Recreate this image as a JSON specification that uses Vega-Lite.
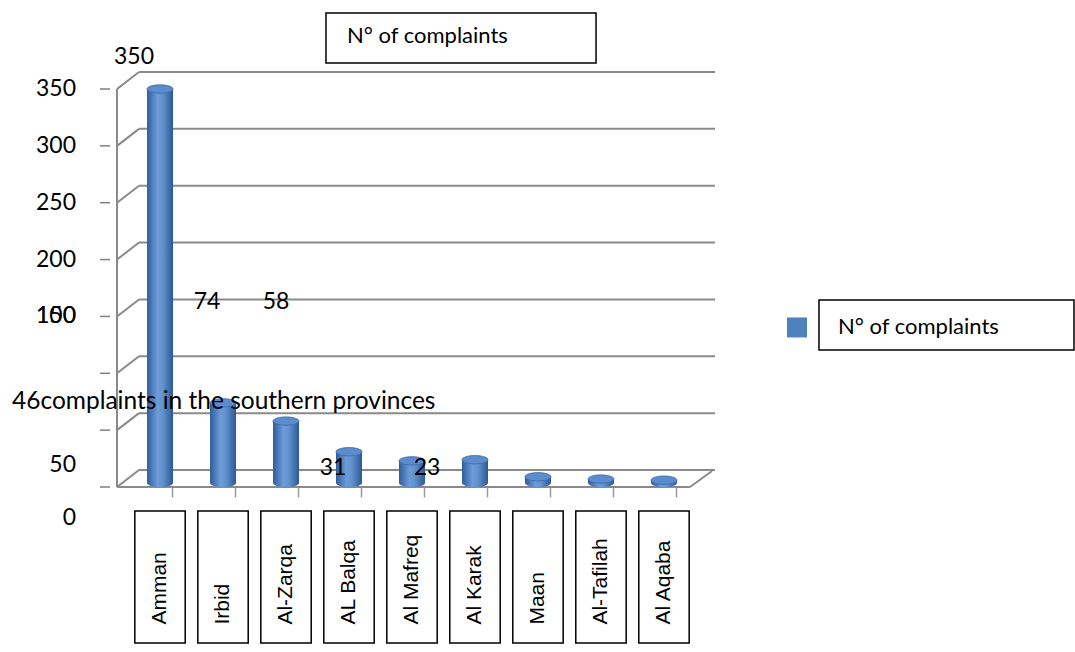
{
  "$schema": "https://vega.github.io/schema/vega-lite/v6.json",
  "width": 590,
  "height": 398,
  "autosize": "none",
  "padding": {"left": 117, "top": 89, "right": 368, "bottom": 165},
  "background": "white",
  "config": {"view": {"stroke": null}, "font": "Lato"},
  "datasets": {
    "regions": [
      {"region": "Amman", "complaints": 350},
      {"region": "Irbid", "complaints": 74},
      {"region": "Al-Zarqa", "complaints": 58},
      {"region": "AL Balqa", "complaints": 31},
      {"region": "Al Mafreq", "complaints": 23},
      {"region": "Al Karak", "complaints": 24},
      {"region": "Maan", "complaints": 9},
      {"region": "Al-Tafilah", "complaints": 7},
      {"region": "Al Aqaba", "complaints": 6}
    ],
    "levels": [
      {"level": 0}, {"level": 50}, {"level": 100}, {"level": 150},
      {"level": 200}, {"level": 250}, {"level": 300}, {"level": 350}
    ]
  },
  "resolve": {"scale": {"x": "independent"}},
  "layer": [
    {
      "data": {"name": "levels"},
      "mark": {"type": "rule", "yOffset": -17, "stroke": "#8a8a8a", "strokeWidth": 2},
      "encoding": {
        "x": {"datum": 3.73, "type": "quantitative", "scale": {"domain": [0, 100], "nice": false, "zero": false}, "axis": null},
        "x2": {"datum": 101.36},
        "y": {"field": "level", "type": "quantitative", "scale": {"domain": [0, 350], "nice": false}, "axis": null}
      }
    },
    {
      "data": {"name": "levels"},
      "mark": {"type": "rule", "y2Offset": -17, "stroke": "#8a8a8a", "strokeWidth": 2},
      "encoding": {
        "x": {"datum": 0, "type": "quantitative", "scale": {"domain": [0, 100], "nice": false, "zero": false}, "axis": null},
        "x2": {"datum": 3.73},
        "y": {"field": "level", "type": "quantitative", "scale": {"domain": [0, 350], "nice": false}, "axis": null},
        "y2": {"field": "level"}
      }
    },
    {
      "data": {"name": "levels"},
      "mark": {"type": "rule", "stroke": "#7f7f7f", "strokeWidth": 1.5},
      "encoding": {
        "x": {"datum": -2.88, "type": "quantitative", "scale": {"domain": [0, 100], "nice": false, "zero": false}, "axis": null},
        "x2": {"datum": -1.19},
        "y": {"field": "level", "type": "quantitative", "scale": {"domain": [0, 350], "nice": false}, "axis": null}
      }
    },
    {
      "data": {"name": "levels"},
      "transform": [{"filter": "datum.level >= 150"}],
      "mark": {"type": "text", "font": "Lato", "fontSize": 23, "color": "black", "align": "right", "baseline": "middle"},
      "encoding": {
        "x": {"datum": -6.95, "type": "quantitative", "scale": {"domain": [0, 100], "nice": false, "zero": false}, "axis": null},
        "y": {"field": "level", "type": "quantitative", "scale": {"domain": [0, 350], "nice": false}, "axis": null},
        "text": {"field": "level"}
      }
    },
    {
      "data": {"values": [{}]},
      "mark": {"type": "rule", "stroke": "#8a8a8a", "strokeWidth": 2},
      "encoding": {
        "x": {"datum": 0, "type": "quantitative", "scale": {"domain": [0, 100], "nice": false, "zero": false}, "axis": null},
        "y": {"datum": 0, "type": "quantitative", "scale": {"domain": [0, 350], "nice": false}, "axis": null},
        "y2": {"datum": 350}
      }
    },
    {
      "data": {"values": [{}]},
      "mark": {"type": "rule", "stroke": "#8a8a8a", "strokeWidth": 2},
      "encoding": {
        "x": {"datum": 0, "type": "quantitative", "scale": {"domain": [0, 100], "nice": false, "zero": false}, "axis": null},
        "x2": {"datum": 97.12},
        "y": {"datum": 0, "type": "quantitative", "scale": {"domain": [0, 350], "nice": false}, "axis": null}
      }
    },
    {
      "data": {"values": [{}]},
      "mark": {"type": "rule", "y2Offset": -16, "stroke": "#8a8a8a", "strokeWidth": 2},
      "encoding": {
        "x": {"datum": 97.12, "type": "quantitative", "scale": {"domain": [0, 100], "nice": false, "zero": false}, "axis": null},
        "x2": {"datum": 100.85},
        "y": {"datum": 0, "type": "quantitative", "scale": {"domain": [0, 350], "nice": false}, "axis": null},
        "y2": {"datum": 0}
      }
    },
    {
      "data": {"name": "regions"},
      "mark": {
        "type": "point", "filled": true, "size": 676, "yOffset": -4,
        "shape": "M -1 0 A 1 0.32 0 1 0 1 0 Z",
        "opacity": 1, "strokeWidth": 0,
        "fill": {
          "gradient": "linear", "x1": 0, "x2": 1, "y1": 0, "y2": 0,
          "stops": [
            {"offset": 0, "color": "#2f5d9c"},
            {"offset": 0.4, "color": "#6c9bd6"},
            {"offset": 0.6, "color": "#6393cf"},
            {"offset": 1, "color": "#2c5896"}
          ]
        }
      },
      "encoding": {
        "x": {
          "field": "region", "type": "nominal",
          "scale": {"type": "band", "domain": ["Amman", "Irbid", "Al-Zarqa", "AL Balqa", "Al Mafreq", "Al Karak", "Maan", "Al-Tafilah", "Al Aqaba"], "paddingInner": 0, "paddingOuter": 0.183},
          "axis": null
        },
        "y": {"datum": 0, "type": "quantitative", "scale": {"domain": [0, 350], "nice": false}, "axis": null}
      }
    },
    {
      "data": {"name": "regions"},
      "mark": {
        "type": "bar", "width": 26, "y2Offset": -4,
        "color": {
          "gradient": "linear", "x1": 0, "x2": 1, "y1": 0, "y2": 0,
          "stops": [
            {"offset": 0, "color": "#2f5d9c"},
            {"offset": 0.4, "color": "#6c9bd6"},
            {"offset": 0.6, "color": "#6393cf"},
            {"offset": 1, "color": "#2c5896"}
          ]
        }
      },
      "encoding": {
        "x": {
          "field": "region", "type": "nominal",
          "scale": {"type": "band", "domain": ["Amman", "Irbid", "Al-Zarqa", "AL Balqa", "Al Mafreq", "Al Karak", "Maan", "Al-Tafilah", "Al Aqaba"], "paddingInner": 0, "paddingOuter": 0.183},
          "axis": {
            "orient": "bottom", "domain": false, "labels": false, "grid": false,
            "ticks": true, "tickSize": 10, "tickColor": "#9a9a9a", "tickWidth": 1.5,
            "bandPosition": 0.7, "title": null
          }
        },
        "y": {"field": "complaints", "type": "quantitative", "scale": {"domain": [0, 350], "nice": false}, "axis": null},
        "y2": {"datum": 0}
      }
    },
    {
      "data": {"name": "regions"},
      "mark": {
        "type": "point", "filled": true, "size": 676,
        "shape": "M -1 0 A 1 0.32 0 1 1 1 0 A 1 0.32 0 1 1 -1 0 Z",
        "fill": "#5b8dcd", "stroke": "#3a69aa", "strokeWidth": 0.8, "opacity": 1
      },
      "encoding": {
        "x": {
          "field": "region", "type": "nominal",
          "scale": {"type": "band", "domain": ["Amman", "Irbid", "Al-Zarqa", "AL Balqa", "Al Mafreq", "Al Karak", "Maan", "Al-Tafilah", "Al Aqaba"], "paddingInner": 0, "paddingOuter": 0.183},
          "axis": null
        },
        "y": {"field": "complaints", "type": "quantitative", "scale": {"domain": [0, 350], "nice": false}, "axis": null}
      }
    },
    {
      "data": {"name": "regions"},
      "mark": {"type": "bar", "width": {"band": 0.8}, "fill": "white", "stroke": "black", "strokeWidth": 1.5},
      "encoding": {
        "x": {
          "field": "region", "type": "nominal",
          "scale": {"type": "band", "domain": ["Amman", "Irbid", "Al-Zarqa", "AL Balqa", "Al Mafreq", "Al Karak", "Maan", "Al-Tafilah", "Al Aqaba"], "paddingInner": 0, "paddingOuter": 0.183},
          "axis": null
        },
        "y": {"datum": -21.1, "type": "quantitative", "scale": {"domain": [0, 350], "nice": false}, "axis": null},
        "y2": {"datum": -137.2}
      }
    },
    {
      "data": {"name": "regions"},
      "mark": {"type": "text", "angle": 270, "align": "left", "baseline": "middle", "font": "Liberation Sans", "fontSize": 21, "color": "black"},
      "encoding": {
        "x": {
          "field": "region", "type": "nominal",
          "scale": {"type": "band", "domain": ["Amman", "Irbid", "Al-Zarqa", "AL Balqa", "Al Mafreq", "Al Karak", "Maan", "Al-Tafilah", "Al Aqaba"], "paddingInner": 0, "paddingOuter": 0.183},
          "axis": null
        },
        "y": {"datum": -121, "type": "quantitative", "scale": {"domain": [0, 350], "nice": false}, "axis": null},
        "text": {"field": "region"}
      }
    },
    {
      "data": {"name": "regions"},
      "transform": [{"filter": {"field": "region", "equal": "Amman"}}],
      "mark": {"type": "text", "font": "Lato", "fontSize": 23, "color": "black", "dx": -26, "dy": -32, "baseline": "middle"},
      "encoding": {
        "x": {
          "field": "region", "type": "nominal",
          "scale": {"type": "band", "domain": ["Amman", "Irbid", "Al-Zarqa", "AL Balqa", "Al Mafreq", "Al Karak", "Maan", "Al-Tafilah", "Al Aqaba"], "paddingInner": 0, "paddingOuter": 0.183},
          "axis": null
        },
        "y": {"field": "complaints", "type": "quantitative", "scale": {"domain": [0, 350], "nice": false}, "axis": null},
        "text": {"field": "complaints"}
      }
    },
    {
      "data": {"name": "regions"},
      "transform": [{"filter": {"field": "region", "equal": "Irbid"}}],
      "mark": {"type": "text", "font": "Lato", "fontSize": 23, "color": "black", "dx": -16, "baseline": "middle"},
      "encoding": {
        "x": {
          "field": "region", "type": "nominal",
          "scale": {"type": "band", "domain": ["Amman", "Irbid", "Al-Zarqa", "AL Balqa", "Al Mafreq", "Al Karak", "Maan", "Al-Tafilah", "Al Aqaba"], "paddingInner": 0, "paddingOuter": 0.183},
          "axis": null
        },
        "y": {"datum": 162.7, "type": "quantitative", "scale": {"domain": [0, 350], "nice": false}, "axis": null},
        "text": {"field": "complaints"}
      }
    },
    {
      "data": {"name": "regions"},
      "transform": [{"filter": {"field": "region", "equal": "Al-Zarqa"}}],
      "mark": {"type": "text", "font": "Lato", "fontSize": 23, "color": "black", "dx": -10, "baseline": "middle"},
      "encoding": {
        "x": {
          "field": "region", "type": "nominal",
          "scale": {"type": "band", "domain": ["Amman", "Irbid", "Al-Zarqa", "AL Balqa", "Al Mafreq", "Al Karak", "Maan", "Al-Tafilah", "Al Aqaba"], "paddingInner": 0, "paddingOuter": 0.183},
          "axis": null
        },
        "y": {"datum": 162.7, "type": "quantitative", "scale": {"domain": [0, 350], "nice": false}, "axis": null},
        "text": {"field": "complaints"}
      }
    },
    {
      "data": {"name": "regions"},
      "transform": [{"filter": {"field": "region", "equal": "AL Balqa"}}],
      "mark": {"type": "text", "font": "Lato", "fontSize": 23, "color": "black", "dx": -16, "baseline": "middle"},
      "encoding": {
        "x": {
          "field": "region", "type": "nominal",
          "scale": {"type": "band", "domain": ["Amman", "Irbid", "Al-Zarqa", "AL Balqa", "Al Mafreq", "Al Karak", "Maan", "Al-Tafilah", "Al Aqaba"], "paddingInner": 0, "paddingOuter": 0.183},
          "axis": null
        },
        "y": {"datum": 16.7, "type": "quantitative", "scale": {"domain": [0, 350], "nice": false}, "axis": null},
        "text": {"field": "complaints"}
      }
    },
    {
      "data": {"name": "regions"},
      "transform": [{"filter": {"field": "region", "equal": "Al Mafreq"}}],
      "mark": {"type": "text", "font": "Lato", "fontSize": 23, "color": "black", "dx": 15, "baseline": "middle"},
      "encoding": {
        "x": {
          "field": "region", "type": "nominal",
          "scale": {"type": "band", "domain": ["Amman", "Irbid", "Al-Zarqa", "AL Balqa", "Al Mafreq", "Al Karak", "Maan", "Al-Tafilah", "Al Aqaba"], "paddingInner": 0, "paddingOuter": 0.183},
          "axis": null
        },
        "y": {"datum": 16.7, "type": "quantitative", "scale": {"domain": [0, 350], "nice": false}, "axis": null},
        "text": {"field": "complaints"}
      }
    },
    {
      "data": {"values": [{"tick": "100", "at": 150.4}, {"tick": "50", "at": 19.3}, {"tick": "0", "at": -27.3}]},
      "mark": {"type": "text", "font": "Lato", "fontSize": 23, "color": "black", "align": "right", "baseline": "middle"},
      "encoding": {
        "x": {"datum": -6.95, "type": "quantitative", "scale": {"domain": [0, 100], "nice": false, "zero": false}, "axis": null},
        "y": {"field": "at", "type": "quantitative", "scale": {"domain": [0, 350], "nice": false}, "axis": null},
        "text": {"field": "tick"}
      }
    },
    {
      "data": {"values": [{}]},
      "mark": {"type": "text", "font": "Lato", "fontSize": 24.5, "color": "black", "align": "left", "baseline": "middle"},
      "encoding": {
        "x": {"datum": -17.8, "type": "quantitative", "scale": {"domain": [0, 100], "nice": false, "zero": false}, "axis": null},
        "y": {"datum": 74.8, "type": "quantitative", "scale": {"domain": [0, 350], "nice": false}, "axis": null},
        "text": {"value": "46complaints in the southern provinces"}
      }
    },
    {
      "data": {"values": [{}]},
      "mark": {"type": "rect", "fill": "white", "stroke": "black", "strokeWidth": 1.5},
      "encoding": {
        "x": {"datum": 35.42, "type": "quantitative", "scale": {"domain": [0, 100], "nice": false, "zero": false}, "axis": null},
        "x2": {"datum": 81.19},
        "y": {"datum": 416.9, "type": "quantitative", "scale": {"domain": [0, 350], "nice": false}, "axis": null},
        "y2": {"datum": 372.9}
      }
    },
    {
      "data": {"values": [{}]},
      "mark": {"type": "text", "font": "Lato", "fontSize": 22, "color": "black", "align": "left", "baseline": "middle"},
      "encoding": {
        "x": {"datum": 38.98, "type": "quantitative", "scale": {"domain": [0, 100], "nice": false, "zero": false}, "axis": null},
        "y": {"datum": 396.5, "type": "quantitative", "scale": {"domain": [0, 350], "nice": false}, "axis": null},
        "text": {"value": "N° of complaints"}
      }
    },
    {
      "data": {"values": [{}]},
      "mark": {"type": "point", "shape": "square", "filled": true, "size": 400, "color": "#4f81bd", "opacity": 1},
      "encoding": {
        "x": {"datum": 115.25, "type": "quantitative", "scale": {"domain": [0, 100], "nice": false, "zero": false}, "axis": null},
        "y": {"datum": 140.3, "type": "quantitative", "scale": {"domain": [0, 350], "nice": false}, "axis": null}
      }
    },
    {
      "data": {"values": [{}]},
      "mark": {"type": "rect", "fill": "white", "stroke": "black", "strokeWidth": 1.5},
      "encoding": {
        "x": {"datum": 118.98, "type": "quantitative", "scale": {"domain": [0, 100], "nice": false, "zero": false}, "axis": null},
        "x2": {"datum": 162.2},
        "y": {"datum": 164.5, "type": "quantitative", "scale": {"domain": [0, 350], "nice": false}, "axis": null},
        "y2": {"datum": 120.5}
      }
    },
    {
      "data": {"values": [{}]},
      "mark": {"type": "text", "font": "Lato", "fontSize": 22, "color": "black", "align": "left", "baseline": "middle"},
      "encoding": {
        "x": {"datum": 122.2, "type": "quantitative", "scale": {"domain": [0, 100], "nice": false, "zero": false}, "axis": null},
        "y": {"datum": 140.3, "type": "quantitative", "scale": {"domain": [0, 350], "nice": false}, "axis": null},
        "text": {"value": "N° of complaints"}
      }
    }
  ]
}
